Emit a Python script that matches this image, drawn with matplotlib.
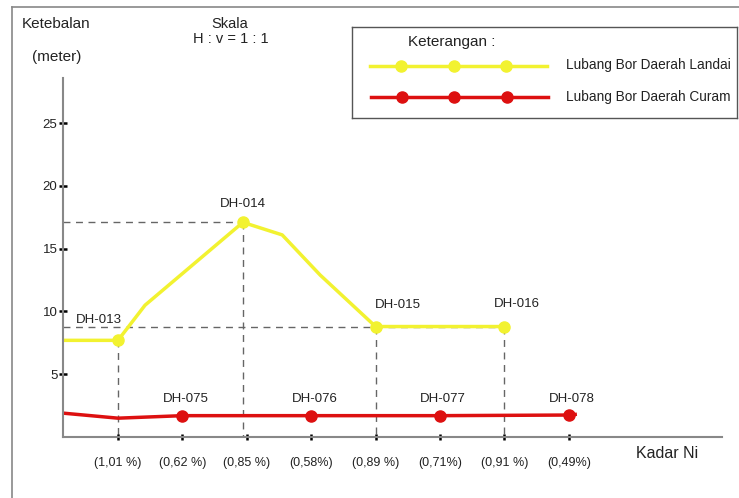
import matplotlib.pyplot as plt
from matplotlib.lines import Line2D

plt.rcParams['font.family'] = ['Liberation Sans', 'DejaVu Sans']

# data
kadar_labels = ['(1,01 %)', '(0,62 %)', '(0,85 %)', '(0,58%)',
                '(0,89 %)', '(0,71%)', '(0,91 %)', '(0,49%)']
kadar_pos = [1, 2, 3, 4, 5, 6, 7, 8]

# Lubang Bor Daerah Landai (line path + drill holes)
landai_x = [0.15, 1, 1.42, 2.94, 3.55, 4.14, 5, 7]
landai_y = [7.7, 7.7, 10.5, 17.1, 16.1, 12.9, 8.8, 8.8]
landai_names = ['DH-013', 'DH-014', 'DH-015', 'DH-016']
landai_hx = [1, 2.94, 5, 7]
landai_hy = [7.7, 17.1, 8.8, 8.8]

# Lubang Bor Daerah Curam
curam_x = [0.15, 1, 2, 4, 6, 8, 8.1]
curam_y = [1.9, 1.5, 1.7, 1.7, 1.7, 1.75, 1.8]
curam_names = ['DH-075', 'DH-076', 'DH-077', 'DH-078']
curam_hx = [2, 4, 6, 8]
curam_hy = [1.7, 1.7, 1.7, 1.75]

yellow = '#f2f230'
red = '#dd1010'
W, H = 739, 498

fig = plt.figure(figsize=(7.39, 4.98), dpi=100)

# outer frame
fig.add_artist(Line2D([12 / W, 12 / W], [0, 1 - 7 / H], color='#888888', lw=1.2))
fig.add_artist(Line2D([12 / W, 1], [1 - 7 / H, 1 - 7 / H], color='#888888', lw=1.2))

ax = fig.add_axes([63 / W, (H - 437) / H, (722 - 63) / W, (437 - 78) / H])
ax.set_xlim(0.146, 10.38)
ax.set_ylim(0, 28.6)
for s in ['top', 'right']:
    ax.spines[s].set_visible(False)
for s in ['left', 'bottom']:
    ax.spines[s].set_color('#888888')
    ax.spines[s].set_linewidth(1.5)

ax.set_yticks([5, 10, 15, 20, 25])
ax.set_yticklabels(['5', '10', '15', '20', '25'], fontsize=9.5, color='#222222')
ax.set_xticks(kadar_pos)
ax.set_xticklabels(kadar_labels, fontsize=9, color='#222222')
ax.tick_params(axis='y', direction='inout', length=6, width=1.8, color='black', pad=1)
ax.tick_params(axis='x', direction='inout', length=5, width=1.8, color='black', pad=12)

# guide lines
dash = dict(color='#666666', lw=1, ls=(0, (5, 4)), zorder=1)
ax.plot([0.146, landai_hx[1]], [landai_hy[1], landai_hy[1]], **dash)
ax.plot([0.146, landai_hx[3]], [landai_hy[3], landai_hy[3]], **dash)
for hx, hy in zip(landai_hx, landai_hy):
    ax.plot([hx, hx], [hy, 0], **dash)

ax.plot(landai_x, landai_y, color=yellow, lw=2.5, zorder=2)
ax.plot(landai_hx, landai_hy, 'o', color=yellow, ms=8, zorder=3)
ax.plot(curam_x, curam_y, color=red, lw=2.5, zorder=2)
ax.plot(curam_hx, curam_hy, 'o', color=red, ms=8, zorder=3)

landai_off = [(-0.3, 1.6), (0, 1.5), (0.35, 1.7), (0.2, 1.8)]
for name, hx, hy, (dx, dy) in zip(landai_names, landai_hx, landai_hy, landai_off):
    ax.text(hx + dx, hy + dy, name, fontsize=9.5, ha='center', va='center', color='#222222')
for name, hx, hy in zip(curam_names, curam_hx, curam_hy):
    ax.text(hx + 0.05, hy + 1.3, name, fontsize=9.5, ha='center', va='center', color='#222222')

fig.text(636 / W, 1 - 453 / H, 'Kadar Ni', fontsize=11.5, va='center', color='#222222')
fig.text(22 / W, 1 - 24 / H, 'Ketebalan', fontsize=11, va='center', color='#222222')
fig.text(32 / W, 1 - 57 / H, '(meter)', fontsize=11, va='center', color='#222222')
fig.text(230 / W, 1 - 24 / H, 'Skala', fontsize=10.5, ha='center', va='center', color='#222222')
fig.text(231 / W, 1 - 39 / H, 'H : v = 1 : 1', fontsize=10.5, ha='center', va='center', color='#222222')

# legend box
lg = fig.add_axes([352 / W, (H - 118) / H, (737 - 352) / W, (118 - 27) / H])
lg.set_xlim(352, 737)
lg.set_ylim(118, 27)
lg.set_xticks([])
lg.set_yticks([])
for s in lg.spines.values():
    s.set_color('#555555')
    s.set_linewidth(1)
lg.text(408, 42, 'Keterangan :', fontsize=11, va='center', color='#222222')
lg.plot([370, 547], [66, 66], color=yellow, lw=2.5)
lg.plot([401, 454, 506], [66, 66, 66], 'o', color=yellow, ms=8)
lg.plot([371, 548], [97, 97], color=red, lw=2.5)
lg.plot([402, 454, 507], [97, 97, 97], 'o', color=red, ms=8)
lg.text(566, 65, 'Lubang Bor Daerah Landai', fontsize=9.8, va='center', color='#222222')
lg.text(566, 97, 'Lubang Bor Daerah Curam', fontsize=9.8, va='center', color='#222222')

fig.savefig('out.png', dpi=100)
